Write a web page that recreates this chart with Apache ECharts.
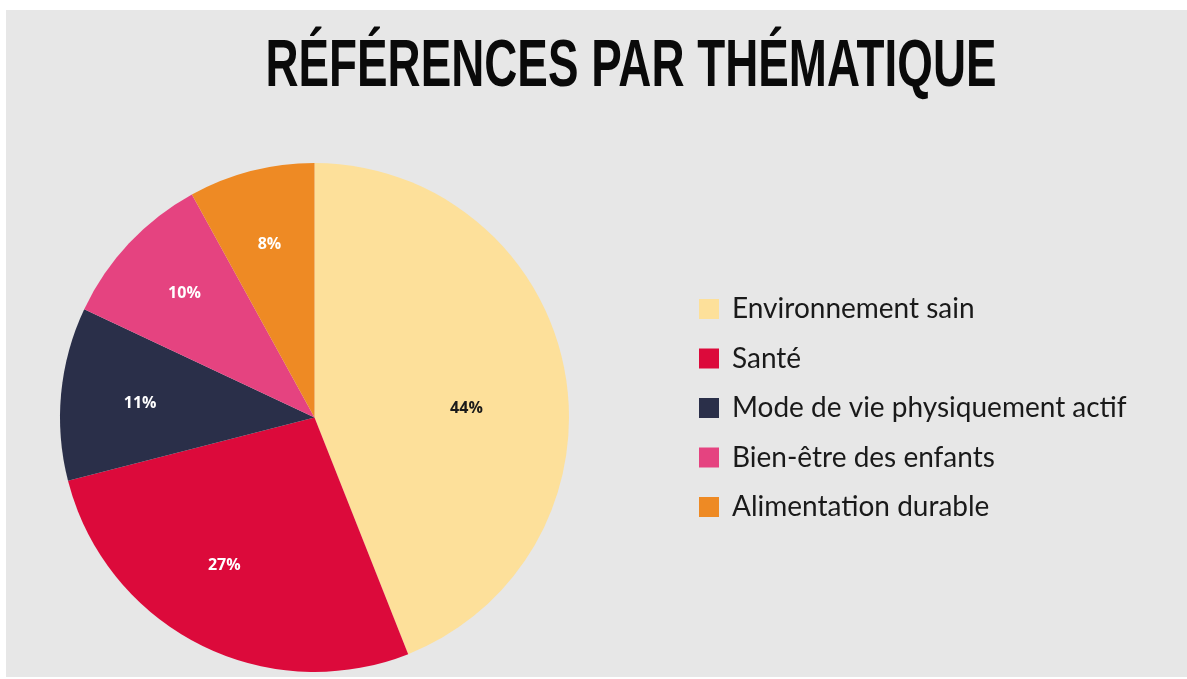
<!DOCTYPE html>
<html>
<head>
<meta charset="utf-8">
<script src="https://cdn.jsdelivr.net/npm/echarts@6/dist/echarts.min.js"></script>
<style>
  html, body { margin: 0; padding: 0; background: #ffffff; }
  #chart { position: absolute; left: 6px; top: 10px; width: 1181px; height: 667px; }
</style>
</head>
<body>
<div id="chart"></div>
<script>
const titleText = 'RÉFÉRENCES PAR THÉMATIQUE';
const categories = ['Environnement sain', 'Santé', 'Mode de vie physiquement actif', 'Bien-être des enfants', 'Alimentation durable'];
const values = [44, 27, 11, 10, 8];
const colors = ['#fde09a', '#dc0a3b', '#2a2f49', '#e54380', '#ee8a24'];
const labelColors = ['#1a1a1a', '#ffffff', '#ffffff', '#ffffff', '#ffffff'];
const labelOffsets = [[-26, 25], [-8, -13], [6, 3], [2, 0], [0, 2]];

const chart = echarts.init(document.getElementById('chart'));
const center = [308.5, 407.5];
const R = 254.5;

const titleFont = 'bold 66px "Liberation Sans"';
const ctx = document.createElement('canvas').getContext('2d');
ctx.font = titleFont;
const titleScale = 731 / ctx.measureText(titleText).width;

chart.setOption({
  backgroundColor: '#e7e7e7',
  animation: false,
  graphic: [{
    type: 'text',
    x: 625, y: 58,
    scaleX: titleScale,
    style: {
      text: titleText,
      font: titleFont,
      fill: '#0a0a0a',
      textAlign: 'center',
      textVerticalAlign: 'middle'
    }
  }],
  legend: {
    orient: 'vertical',
    left: 688,
    top: 280,
    icon: 'rect',
    itemWidth: 20,
    itemHeight: 20,
    itemGap: 21.5,
    selectedMode: false,
    textStyle: {
      fontFamily: 'Lato',
      fontSize: 28,
      color: '#1a1a1a',
      lineHeight: 20,
      padding: [0, 0, 4, 8]
    },
    data: categories
  },
  series: [{
    type: 'pie',
    center: center,
    radius: [0, R],
    startAngle: 90,
    clockwise: true,
    silent: true,
    label: { show: false },
    labelLine: { show: false },
    emphasis: { scale: false },
    data: categories.map((n, i) => ({ name: n, value: values[i], itemStyle: { color: colors[i] } }))
  }, {
    type: 'pie',
    center: center,
    radius: [0, R * 1.4],
    startAngle: 90,
    clockwise: true,
    silent: true,
    itemStyle: { color: 'rgba(0,0,0,0)' },
    labelLine: { show: false },
    emphasis: { scale: false },
    label: {
      show: true,
      position: 'inside',
      formatter: '{c}%',
      fontFamily: 'Open Sans',
      fontWeight: 'bold',
      fontSize: 16
    },
    data: categories.map((n, i) => ({
      name: n, value: values[i],
      label: { color: labelColors[i], offset: labelOffsets[i] }
    }))
  }]
});
</script>
</body>
</html>
